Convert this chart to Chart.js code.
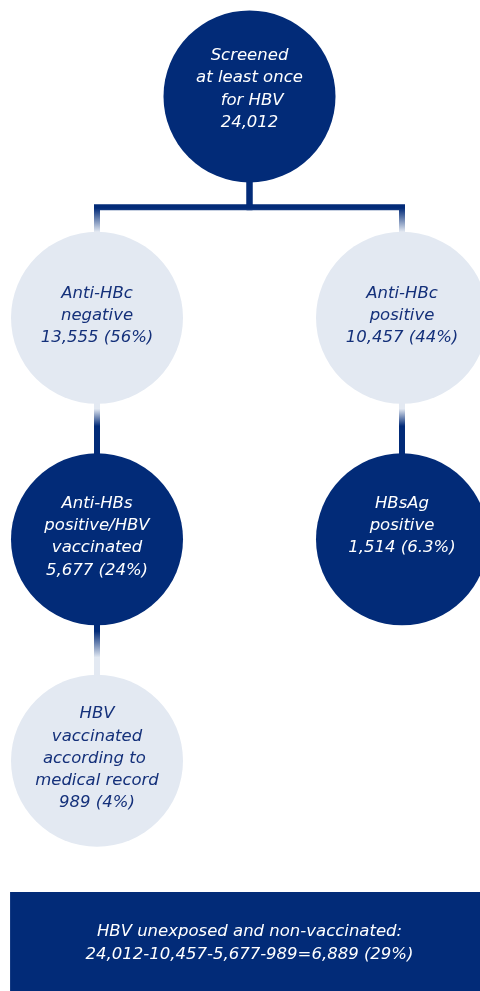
<!DOCTYPE html>
<html>
<head>
<meta charset="utf-8">
<title>HBV screening cascade</title>
<script src="https://cdn.jsdelivr.net/npm/chart.js@4.4.1/dist/chart.umd.min.js"></script>
<style>
  html, body { margin: 0; padding: 0; background: #ffffff; }
  #wrap { position: relative; width: 480px; height: 991px; }
</style>
</head>
<body>
<div id="wrap"><canvas id="hbvChart"></canvas></div>
<script>
// ---- data ----
const nodeNames = [
  ['Screened', 'at least once', ' for HBV'],
  ['Anti-HBc', 'negative'],
  ['Anti-HBc', 'positive'],
  ['Anti-HBs', 'positive/HBV', 'vaccinated'],
  ['HBsAg', 'positive'],
  ['HBV', 'vaccinated', 'according to ', 'medical record']
];
const nodeCounts = [24012, 13555, 10457, 5677, 1514, 989];
const nodePercents = [null, 56, 44, 24, 6.3, 4];
const summaryLabel = 'HBV unexposed and non-vaccinated:';

// ---- layout of the tree (columns / levels, not data) ----
const nodeCol = [0.5, 0, 1, 0, 1, 0];
const nodeRow = [0, 1, 1, 2, 2, 3];
const nodeDark = [true, false, false, true, true, false];
const nodePadLines = [0, 0, 0, 0, 1, 0]; // empty trailing lines in the original boxes
const nodeTextShift = [-9, -4, -4, -4, -4, -4];
const links = [
  { from: 0, to: 1, fade: [0.52, 1.0] },
  { from: 0, to: 2, fade: [0.52, 1.0] },
  { from: 1, to: 3, fade: [0.1, 0.45] },
  { from: 2, to: 4, fade: [0.1, 0.45] },
  { from: 3, to: 5, fade: [0.12, 0.65] }
];
const summaryRow = 3.816;
const summaryFrom = -0.285, summaryTo = 1.29;

const NAVY = '#022b78';
const LIGHT = '#e3e9f2';
const TEXT_NAVY = '#14307a';
const NODE_R = 86;
const FONT = 'italic 16.5px "DejaVu Sans", Verdana, sans-serif';
const LINE_H = 22.2;
const CAP_HALF = 6;

function fmt(n) { return n.toLocaleString('en-US'); }

function nodeLines(i) {
  const lines = nodeNames[i].slice();
  let last = fmt(nodeCounts[i]);
  if (nodePercents[i] !== null) last += ' (' + nodePercents[i] + '%)';
  lines.push(last);
  for (let k = 0; k < nodePadLines[i]; k++) lines.push('');
  return lines;
}

// total - anti-HBc positive - anti-HBs positive - vaccinated per record
const unexposed = nodeCounts[0] - nodeCounts[2] - nodeCounts[3] - nodeCounts[5];
const summaryLines = [
  summaryLabel,
  fmt(nodeCounts[0]) + '-' + fmt(nodeCounts[2]) + '-' + fmt(nodeCounts[3]) + '-' + fmt(nodeCounts[5]) +
    '=' + fmt(unexposed) + ' (' + Math.round(unexposed / nodeCounts[0] * 100) + '%)'
];

function linkPath(l) {
  const a = l.from, b = l.to;
  if (nodeCol[a] === nodeCol[b]) {
    return [{ x: nodeCol[a], y: nodeRow[a] }, { x: nodeCol[b], y: nodeRow[b] }];
  }
  const mid = (nodeRow[a] + nodeRow[b]) / 2;
  return [
    { x: nodeCol[a], y: nodeRow[a] },
    { x: nodeCol[a], y: mid },
    { x: nodeCol[b], y: mid },
    { x: nodeCol[b], y: nodeRow[b] }
  ];
}

function linkColor(l) {
  return function (context) {
    const chart = context.chart;
    const y = chart.scales.y;
    if (!y) return NAVY;
    const top = y.getPixelForValue(nodeRow[l.from]) + NODE_R;
    const bottom = y.getPixelForValue(nodeRow[l.to]) - NODE_R;
    if (!isFinite(top) || !isFinite(bottom)) return NAVY;
    const c0 = nodeDark[l.from] ? NAVY : LIGHT;
    const c1 = nodeDark[l.to] ? NAVY : LIGHT;
    const g = chart.ctx.createLinearGradient(0, top, 0, bottom);
    g.addColorStop(0, c0);
    g.addColorStop(l.fade[0], c0);
    g.addColorStop(l.fade[1], c1);
    g.addColorStop(1, c1);
    return g;
  };
}

const datasets = [];

// circles
datasets.push({
  type: 'scatter',
  data: nodeCol.map(function (c, i) { return { x: c, y: nodeRow[i] }; }),
  pointRadius: NODE_R,
  pointHoverRadius: NODE_R,
  pointBackgroundColor: nodeDark.map(function (d) { return d ? NAVY : LIGHT; }),
  pointBorderWidth: 0,
  pointBorderColor: 'rgba(0,0,0,0)',
  showLine: false,
  clip: false,
  order: 0
});

// connectors
links.forEach(function (l) {
  datasets.push({
    type: 'line',
    data: linkPath(l),
    borderColor: linkColor(l),
    borderWidth: 6,
    borderJoinStyle: 'miter',
    borderCapStyle: 'butt',
    pointRadius: 0,
    fill: false,
    tension: 0,
    clip: false,
    order: 2
  });
});

// summary box (a very thick line segment)
datasets.push({
  type: 'line',
  data: [{ x: summaryFrom, y: summaryRow }, { x: summaryTo, y: summaryRow }],
  borderColor: NAVY,
  borderWidth: 99,
  borderCapStyle: 'butt',
  pointRadius: 0,
  fill: false,
  clip: false,
  order: 1
});

const textPlugin = {
  id: 'nodeText',
  afterDatasetsDraw: function (chart) {
    const ctx = chart.ctx;
    const meta = chart.getDatasetMeta(0);
    ctx.save();
    ctx.font = FONT;
    ctx.textAlign = 'center';
    ctx.textBaseline = 'alphabetic';
    meta.data.forEach(function (pt, i) {
      const lines = nodeLines(i);
      ctx.fillStyle = nodeDark[i] ? '#ffffff' : TEXT_NAVY;
      const first = pt.y + nodeTextShift[i] - (lines.length - 1) * LINE_H / 2;
      lines.forEach(function (s, k) {
        ctx.fillText(s, pt.x, first + k * LINE_H + CAP_HALF);
      });
    });
    // summary text
    const sx = chart.scales.x.getPixelForValue(0.5);
    const sy = chart.scales.y.getPixelForValue(summaryRow);
    ctx.fillStyle = '#ffffff';
    summaryLines.forEach(function (s, k) {
      ctx.fillText(s, sx, sy - (summaryLines.length - 1) * LINE_H / 2 + k * LINE_H + CAP_HALF);
    });
    ctx.restore();
  }
};

// pixel mapping: col 0 -> 97px, col 1 -> 402px; row 0 -> 96.4px, 221.45px per row
const X_MIN = -97 / 305, X_MAX = X_MIN + 480 / 305;
const Y_MIN = -96.4 / 221.45, Y_MAX = Y_MIN + 991 / 221.45;

new Chart(document.getElementById('hbvChart'), {
  type: 'scatter',
  data: { datasets: datasets },
  options: {
    responsive: true,
    maintainAspectRatio: false,
    animation: false,
    events: [],
    layout: { padding: 0, autoPadding: false },
    plugins: {
      legend: { display: false },
      tooltip: { enabled: false }
    },
    scales: {
      x: { type: 'linear', display: false, min: X_MIN, max: X_MAX, bounds: 'data' },
      y: { type: 'linear', display: false, reverse: true, min: Y_MIN, max: Y_MAX, bounds: 'data' }
    }
  },
  plugins: [textPlugin]
});
</script>
</body>
</html>
